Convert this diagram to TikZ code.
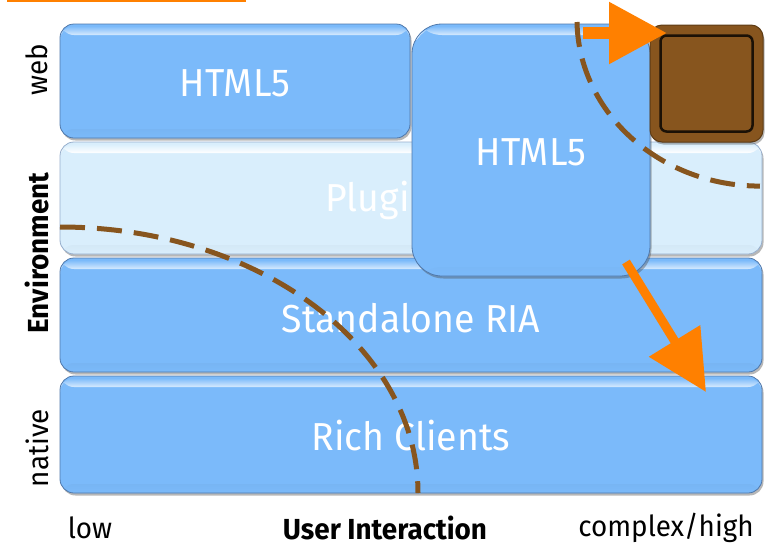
\documentclass[tikz,border=0pt]{standalone}
\usepackage{fontspec}
\setmainfont[FakeStretch=0.96]{Fira Sans}
\usetikzlibrary{arrows.meta,shadows}
\definecolor{bluec}{RGB}{123,186,250}
\definecolor{lightc}{RGB}{217,238,252}
\definecolor{brownc}{RGB}{135,85,30}
\definecolor{orangec}{RGB}{255,128,0}
\definecolor{edgec}{RGB}{80,120,170}
\tikzset{
  rowbox/.style={rounded corners=#1, draw=edgec, line width=0.8pt, inner sep=0pt,
    drop shadow={shadow xshift=1.5pt, shadow yshift=-2.5pt, opacity=0.4, fill=black!70}},
  bluebox/.style={rowbox=14pt, fill=bluec,
    path picture={
      \shade[top color=black!35!bluec, bottom color=bluec] ([yshift=9pt]path picture bounding box.south west) rectangle (path picture bounding box.south east);
      \shade[top color=bluec, bottom color=white!70!bluec] ([yshift=-2pt]path picture bounding box.north west) rectangle ([yshift=-11pt]path picture bounding box.north east);
    }},
  bigbox/.style={rowbox=30pt, fill=bluec,
    path picture={
      \shade[top color=black!35!bluec, bottom color=bluec] ([yshift=9pt]path picture bounding box.south west) rectangle (path picture bounding box.south east);
      \shade[top color=bluec, bottom color=white!70!bluec] ([yshift=-2pt]path picture bounding box.north west) rectangle ([yshift=-11pt]path picture bounding box.north east);
    }},
  lightbox/.style={rowbox=14pt, fill=lightc, draw=edgec!60,
    path picture={
      \shade[top color=black!30!lightc, bottom color=lightc] ([yshift=9pt]path picture bounding box.south west) rectangle (path picture bounding box.south east);
      \shade[top color=lightc, bottom color=white] ([yshift=-2pt]path picture bounding box.north west) rectangle ([yshift=-11pt]path picture bounding box.north east);
    }},
  boxtext/.style={text=white, font=\fontsize{39}{42}\selectfont},
  axistext/.style={font=\fontsize{29}{32}\selectfont, text=black},
  axisbold/.style={font=\fontsize{29}{32}\selectfont\bfseries, text=black},
  brdash/.style={draw=brownc, line width=5pt, dash pattern=on 25pt off 12pt},
  orarrow/.style={draw=orangec, fill=orangec, line width=#1},
}
\begin{document}
\begin{tikzpicture}[x=1pt,y=-1pt]
\useasboundingbox (0,0) rectangle (769,552);
% top orange bar
\fill[orangec] (7,0) rectangle (246,2);
% rows
\node[bluebox, minimum width=350pt, minimum height=114pt] (web) at (235,81) {};
\node[boxtext] (webt) at (235,83) {HTML5};
\node[lightbox, minimum width=702pt, minimum height=112pt] (plugin) at (411,198) {};
\node[boxtext, anchor=west] (plugint) at (322,200) {Plugins};
\node[bluebox, minimum width=702pt, minimum height=114pt] (ria) at (411,315) {};
\node[boxtext] (riat) at (411,318) {Standalone RIA};
\node[bluebox, minimum width=702pt, minimum height=117pt] (rich) at (411,434.5) {};
\node[boxtext] (richt) at (411,436) {Rich Clients};
% big HTML5 box
\node[bigbox, minimum width=238pt, minimum height=252pt] (big) at (531,150) {};
\node[boxtext] (bigt) at (531,152) {HTML5};
% brown box
\node[rounded corners=12pt, fill=brownc, draw=brownc!70!black, line width=1pt,
      minimum width=113pt, minimum height=117pt, inner sep=0pt,
      drop shadow={shadow xshift=1.5pt, shadow yshift=-2.5pt, opacity=0.4, fill=black!70}] (brown) at (706.5,83.5) {};
\node[rounded corners=6pt, draw=black!80!brownc, line width=2.5pt,
      minimum width=92pt, minimum height=96pt, inner sep=0pt] (browni) at (706.5,83.5) {};
% dashed curves
\draw[brdash] (60,227) arc[start angle=-90, end angle=0, x radius=358, y radius=266];
\draw[brdash] (577,22) arc[start angle=179, end angle=90, x radius=183, y radius=167];
% orange arrows
\coordinate (a1s) at (583,33);
\coordinate (a1e) at (667,33);
\draw[orarrow=12pt, -{Triangle[length=58pt,width=59pt]}] (a1s) -- (a1e);
\coordinate (a2s) at (626,262);
\coordinate (a2e) at (706,392);
\draw[orarrow=9pt, -{Triangle[length=60pt,width=58pt]}] (a2s) -- (a2e);
% axis labels
\node[axistext, rotate=90] (lweb) at (37,70) {web};
\node[axisbold, rotate=90] (lenv) at (37,253) {Environment};
\node[axistext, rotate=90] (lnat) at (37,448) {native};
\node[axistext] (llow) at (90,528) {low};
\node[axisbold] (lui) at (385,528) {User Interaction};
\node[axistext] (lhigh) at (666,528) {complex/high};
\end{tikzpicture}
\end{document}
